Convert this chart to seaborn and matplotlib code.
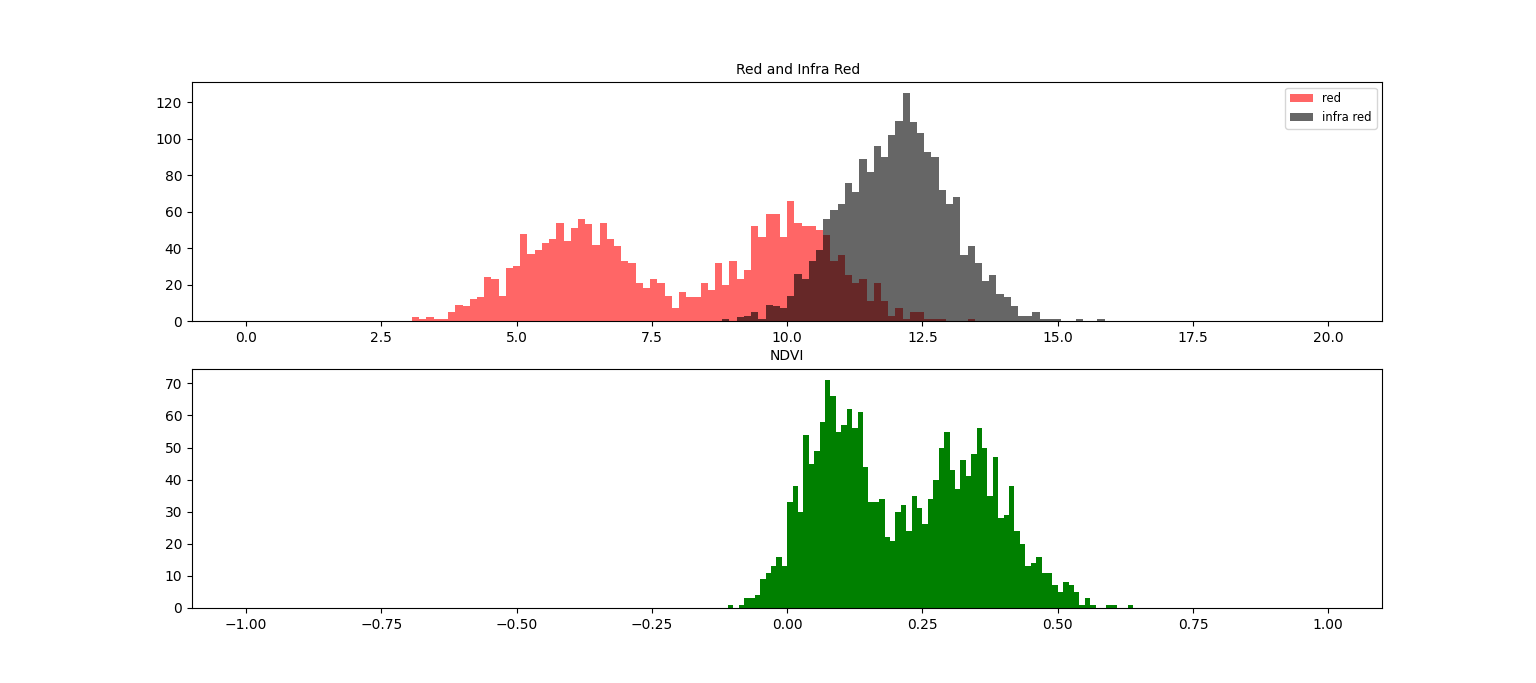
import numpy as np
import matplotlib
matplotlib.use("Agg")
import matplotlib.pyplot as plt
import seaborn as sns

# histogram counts
# top panel: 150 bins over [0, 20], counts start at the given bin index
band_bins = 150
band_range = (0, 20)

red_first_bin = 23
red_counts = [
    2, 1, 2, 1, 1, 5, 9, 8, 12, 13, 24, 23, 14, 29, 30, 48, 37, 39, 43, 45,
    54, 44, 51, 56, 53, 42, 54, 45, 41, 33, 32, 21, 18, 23, 21, 14, 7, 16, 13, 13,
    21, 17, 32, 20, 33, 23, 28, 52, 46, 59, 59, 46, 66, 54, 52, 52, 50, 47, 33, 36,
    25, 21, 23, 11, 21, 11, 3, 7, 1, 5, 5, 1, 1, 1, 0, 0, 0, 1,
]

nir_first_bin = 66
nir_counts = [
    1, 0, 2, 3, 5, 1, 9, 8, 7, 14, 26, 23, 33, 39, 56, 61, 64, 76, 71, 89,
    82, 96, 90, 102, 110, 125, 109, 103, 93, 90, 72, 64, 68, 36, 41, 32, 22, 25, 15, 13,
    8, 3, 3, 5, 1, 1, 1, 0, 0, 1, 0, 0, 1,
]

# bottom panel: 200 bins over [-1, 1]
ndvi_bins = 200
ndvi_range = (-1, 1)
ndvi_first_bin = 89
ndvi_counts = [
    1, 0, 1, 3, 3, 4, 9, 11, 13, 16, 13, 33, 38, 30, 54, 45, 49, 58, 71, 66,
    55, 57, 62, 56, 61, 44, 33, 33, 34, 22, 21, 30, 32, 24, 35, 31, 26, 34, 40, 50,
    55, 43, 37, 46, 41, 48, 56, 50, 35, 47, 28, 29, 38, 24, 20, 13, 14, 16, 11, 11,
    7, 5, 8, 7, 5, 1, 3, 1, 0, 0, 1, 1, 0, 0, 1,
]


def bin_centers(n_bins, rng, first, counts):
    edges = np.linspace(rng[0], rng[1], n_bins + 1)
    centers = (edges[:-1] + edges[1:]) / 2
    return centers[first:first + len(counts)]


fig, (ax1, ax2) = plt.subplots(2, 1, figsize=(15.36, 6.83), dpi=100)

sns.histplot(
    x=bin_centers(band_bins, band_range, red_first_bin, red_counts),
    weights=red_counts,
    bins=band_bins,
    binrange=band_range,
    color="red",
    alpha=0.6,
    linewidth=0,
    edgecolor="none",
    label="red",
    ax=ax1,
)
sns.histplot(
    x=bin_centers(band_bins, band_range, nir_first_bin, nir_counts),
    weights=nir_counts,
    bins=band_bins,
    binrange=band_range,
    color="black",
    alpha=0.6,
    linewidth=0,
    edgecolor="none",
    label="infra red",
    ax=ax1,
)
ax1.set_title("Red and Infra Red", fontsize=10, x=0.509)
ax1.set_ylabel("")
ax1.legend(loc="upper right", fontsize="small")

sns.histplot(
    x=bin_centers(ndvi_bins, ndvi_range, ndvi_first_bin, ndvi_counts),
    weights=ndvi_counts,
    bins=ndvi_bins,
    binrange=ndvi_range,
    color="green",
    alpha=1.0,
    linewidth=0,
    edgecolor="none",
    ax=ax2,
)
ax2.set_title("NDVI", fontsize=10)
ax2.set_ylabel("")

fig.savefig("out.png", dpi=100)
